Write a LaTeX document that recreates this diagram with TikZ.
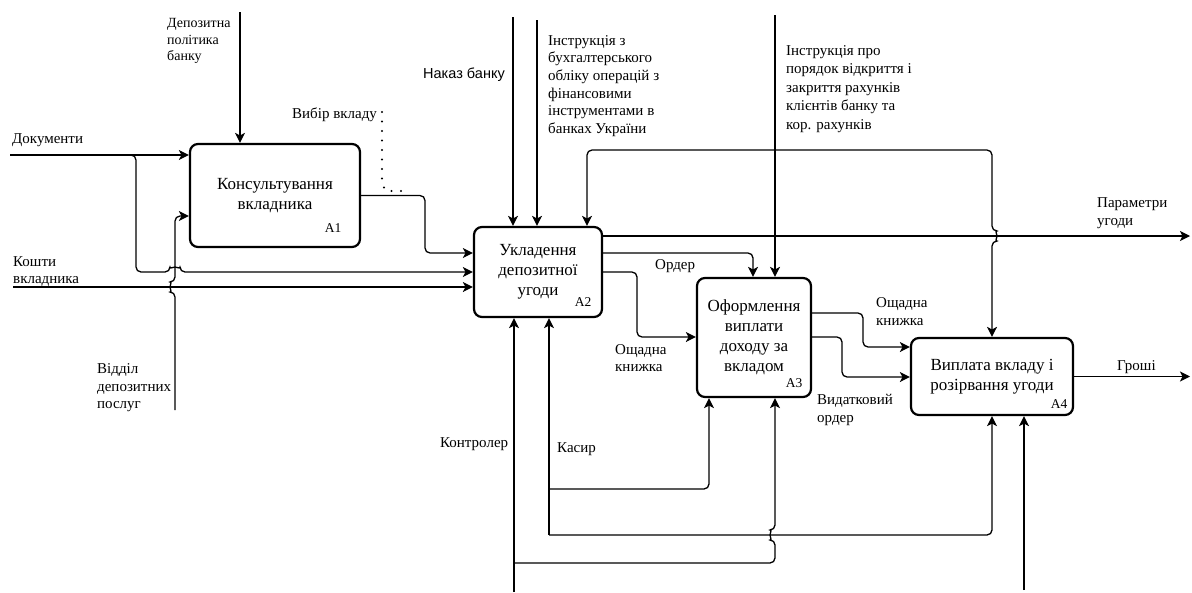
\documentclass[tikz,border=0pt]{standalone}
\usepackage{fontspec}
\setmainfont{Liberation Serif}
\newfontfamily\serfam{Liberation Serif}
\newfontfamily\sansfam{Liberation Sans}
\usetikzlibrary{arrows.meta,calc}
\begin{document}
\begin{tikzpicture}[x=1pt,y=-1pt,
  box/.style={draw,line width=2.2pt,rounded corners=8pt,inner sep=0pt,align=center,font=\serfam\fontsize{17}{20}\selectfont},
  num/.style={inner sep=0pt,font=\serfam\fontsize{13.5}{15}\selectfont},
  lbl/.style={anchor=west,align=left,inner sep=0pt,font=\serfam\fontsize{15}{17.6}\selectfont},
  conn/.style={line width=1.3pt,rounded corners=5pt},
  arr/.style={conn,-{Stealth[length=10pt,width=10pt,inset=2.5pt]}},
]
\useasboundingbox (0,0) rectangle (1192,592);

% boxes
\node[box,minimum width=170pt,minimum height=103pt] (A1) at (275,195.5) {Консультування\\вкладника};
\node[box,minimum width=128pt,minimum height=90pt] (A2) at (538,272) {Укладення\\депозитної\\угоди};
\node[box,minimum width=114pt,minimum height=119pt] (A3) at (754,337.5) {Оформлення\\виплати\\доходу за\\вкладом};
\node[box,minimum width=162pt,minimum height=77pt] (A4) at (992,376.5) {Виплата вкладу і\\розірвання угоди};
\node[num] (n1) at (333,228) {A1};
\node[num] (n2) at (583,302) {A2};
\node[num] (n3) at (794,383) {A3};
\node[num] (n4) at (1059,404) {A4};

% helper coordinates
\coordinate (y216) at (0,216);
\coordinate (y236) at (0,236);
\coordinate (y253) at (0,253);
\coordinate (y272) at (0,272);
\coordinate (y313) at (0,313);
\coordinate (y337) at (0,337);
\coordinate (y347) at (0,347);
\coordinate (y377) at (0,377);

% Документи
\coordinate (docS) at (10,155);
\coordinate (docB) at (130,155);
\draw[arr] (docS) -- (docS -| A1.west);
\draw[arr] (docB) -- (136,155) -- (136,272) -- (170,272) arc[start angle=180,end angle=360,radius=5] -- (A2.west |- y272);
% Кошти
\coordinate (koS) at (13,287);
\draw[arr] (koS) -- (koS -| A2.west);
% Відділ
\coordinate (otd) at (175,410);
\draw[arr] (otd) -- (175,292) arc[start angle=90,end angle=270,radius=5] -- (175,216) -- (A1.west |- y216);
% Депозитна
\coordinate (dep) at (240,12);
\draw[arr] (dep) -- (dep |- A1.north);
% Вибір вкладу
\draw[arr] (A1.east) -- (425,195.5) -- (425,253) -- (A2.west |- y253);
\coordinate (dotS) at (382,112);
\draw[line width=2.3pt,line cap=round,dash pattern=on 0pt off 9.5pt] (dotS) -- (382,184) -- (386,191) -- (406,191);
% Наказ, Інструкції
\coordinate (nak) at (513,17);
\draw[arr] (nak) -- (nak |- A2.north);
\coordinate (ins1) at (537,20);
\draw[arr] (ins1) -- (ins1 |- A2.north);
\coordinate (ins2) at (775,15);
\draw[arr] (ins2) -- (ins2 |- A3.north);
% feedback branch
\coordinate (fb) at (775,150);
\coordinate (fbA2) at (587,0);
\draw[arr] (fb) -| (fbA2 |- A2.north);
\draw[arr] (fb) -- (992,150) -- (992,231) arc[start angle=270,end angle=450,radius=5] -- (A4.north);
% Параметри угоди
\coordinate (par) at (1190,236);
\draw[arr] (A2.east |- y236) -- (par);
% Ордер
\draw[arr] (A2.east |- y253) -| ($(A3.north)+(-1,0)$);
% Ощадна книжка 1
\draw[arr] (A2.east |- y272) -- (637,272) -- (637,337) -- (A3.west |- y337);
% Ощадна книжка 2
\draw[arr] (A3.east |- y313) -- (863,313) -- (863,347) -- (A4.west |- y347);
% Видатковий ордер
\draw[arr] (A3.east |- y337) -- (842,337) -- (842,377) -- (A4.west |- y377);
% Гроші
\coordinate (gr) at (1190,376.5);
\draw[arr] (A4.east) -- (gr);
% A4 bottom
\coordinate (b4) at (1024,590);
\draw[arr] (b4) -- (b4 |- A4.south);
% Контролер
\coordinate (kon) at (514,592);
\draw[arr] (kon) -- (kon |- A2.south);
\coordinate (konJ) at (514,563);
\draw[arr] (konJ) -- (775,563) -- (775,540) arc[start angle=90,end angle=270,radius=5] -- (ins2 |- A3.south);
% Касир
\coordinate (kas) at (549,535);
\draw[arr] (kas) -- (kas |- A2.south);
\coordinate (kasJ) at (549,489);
\coordinate (x709) at (709,0);
\draw[arr] (kasJ) -| (x709 |- A3.south);
\draw[arr] (kas) -| (A4.south);

% labels
\node[lbl,font=\serfam\fontsize{14}{16.5}\selectfont] (lDep) at (167,41) {Депозитна\\політика\\банку};
\node[lbl] (lVyb) at (292,115) {Вибір вкладу};
\node[lbl] (lDoc) at (12,140) {Документи};
\node[lbl] (lKosh) at (13,271.5) {Кошти\\вкладника};
\node[lbl] (lOtd) at (97,388) {Відділ\\депозитних\\послуг};
\node[lbl,font=\sansfam\fontsize{14.5}{17}\selectfont] (lNak) at (423,75) {Наказ банку};
\node[lbl] (lIns1) at (548,86) {Інструкція з\\бухгалтерського\\обліку операцій з\\фінансовими\\інструментами в\\банках України};
\node[lbl,font=\serfam\fontsize{15}{18.5}\selectfont] (lIns2) at (786,89) {Інструкція про\\порядок відкриття і\\закриття рахунків\\клієнтів банку та\\кор. рахунків};
\node[lbl] (lPar) at (1097,213.5) {Параметри\\угоди};
\node[lbl] (lOrd) at (655,266) {Ордер};
\node[lbl] (lOsh1) at (615,358) {Ощадна\\книжка};
\node[lbl] (lOsh2) at (876,311.5) {Ощадна\\книжка};
\node[lbl] (lVyd) at (817,410) {Видатковий\\ордер};
\node[lbl] (lGr) at (1117,367) {Гроші};
\node[lbl] (lKon) at (440,444) {Контролер};
\node[lbl] (lKas) at (557,449) {Касир};
\end{tikzpicture}
\end{document}
